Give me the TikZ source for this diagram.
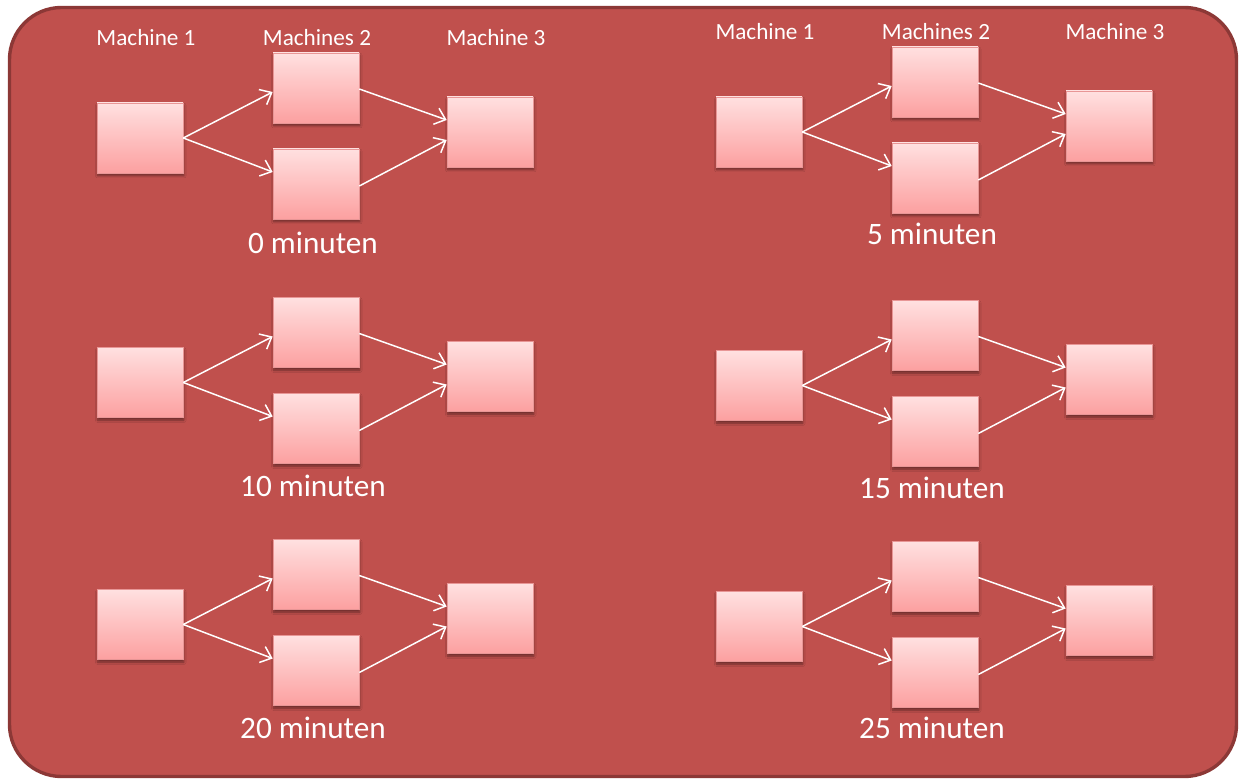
\documentclass[tikz,border=0pt]{standalone}
\usepackage{fontspec}
\setmainfont{Carlito}
\usetikzlibrary{arrows.meta,shadows.blur,calc}

\definecolor{panelfill}{RGB}{192,80,77}
\definecolor{paneledge}{RGB}{140,56,54}
\definecolor{boxtop}{RGB}{255,224,224}
\definecolor{boxbottom}{RGB}{252,160,160}
\definecolor{boxedge}{RGB}{232,150,150}

\tikzset{
  panel/.style={draw=paneledge, line width=1.7pt, fill=panelfill, rounded corners=26pt},
  machbox/.style={rectangle, minimum width=43pt, minimum height=35pt, inner sep=0pt,
    draw=boxedge, line width=0.3pt, top color=boxtop, bottom color=boxbottom,
    blur shadow={shadow xshift=0.4pt, shadow yshift=-1.3pt, shadow blur steps=6,
      shadow blur radius=1.2pt, shadow opacity=45}},
  flow/.style={draw=white, line width=0.75pt, -{Straight Barb[length=5pt,width=8.5pt,line width=0.75pt]}},
  headtxt/.style={text=white, font=\fontsize{11.6}{13}\selectfont, inner sep=0pt},
  timetxt/.style={text=white, font=\fontsize{15.6}{18}\selectfont, inner sep=0pt}
}

\begin{document}
\begin{tikzpicture}[x=0.5pt, y=-0.5pt]
\useasboundingbox (0,0) rectangle (1242,780);

% background panel
\draw[panel] (9.5,7.5) rectangle (1236.5,776.5);

% one production line: machine 1, two machines 2, machine 3
\foreach \g/\px/\py/\lbl/\ly/\hdr in {
    g1/140/138/0 minuten/105/1,
    g2/759/132/5 minuten/102/1,
    g3/140/382.5/10 minuten/103.5/0,
    g4/759/385.5/15 minuten/102.5/0,
    g5/140/624.5/20 minuten/103.5/0,
    g6/759/626.5/25 minuten/101.5/0} {
  \node[machbox] (\g m1) at (\px,\py) {};
  \node[machbox] (\g a)  at ($(\px,\py)+(176,-50)$) {};
  \node[machbox] (\g b)  at ($(\px,\py)+(176,46)$) {};
  \node[machbox] (\g m3) at ($(\px,\py)+(350,-6)$) {};
  \node[timetxt] (\g t) at ($(\px,\py)+(173,\ly)$) {\lbl};

  \draw[flow] (\g m1.east) -- ($(\g a.west)+(0,4)$);
  \draw[flow] (\g m1.east) -- ($(\g b.west)+(0,-12)$);
  \draw[flow] ($(\g a.east)+(0,1)$) -- ($(\g m3.west)+(0,-12)$);
  \draw[flow] ($(\g b.east)+(0,2)$) -- ($(\g m3.west)+(0,8)$);

  \ifnum\hdr=1
    \node[headtxt] (\g h1) at ($(\px,\py)+(6,-100)$) {Machine 1};
    \node[headtxt] (\g h2) at ($(\px,\py)+(177,-100)$) {Machines 2};
    \node[headtxt] (\g h3) at ($(\px,\py)+(356,-100)$) {Machine 3};
  \fi
}
\end{tikzpicture}
\end{document}
